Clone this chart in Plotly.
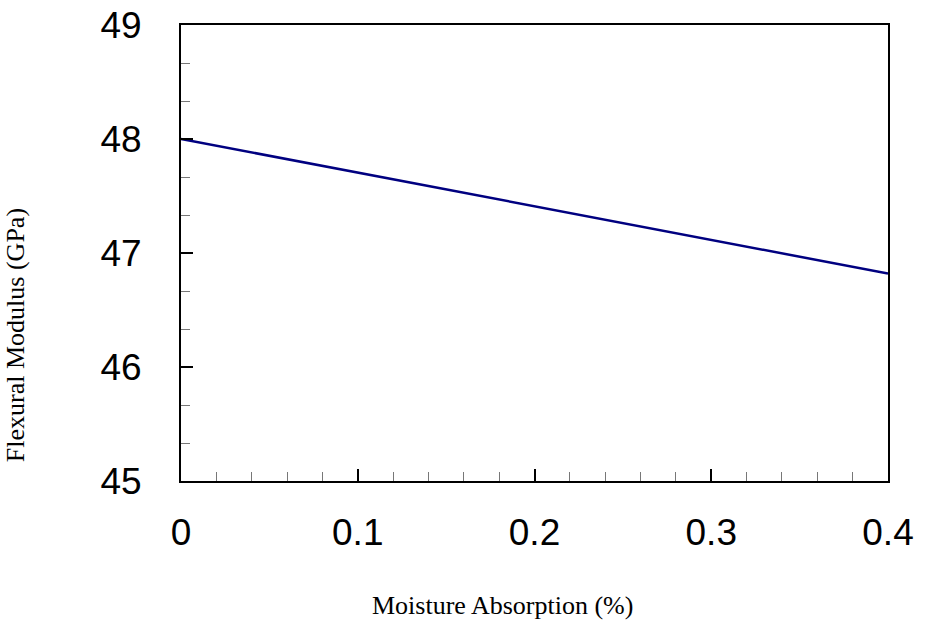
import plotly.graph_objects as go

moisture = [0.0, 0.4]
modulus = [48.0, 46.82]

x_ticks = [0, 0.1, 0.2, 0.3, 0.4]
x_ticklabels = ["0", "0.1", "0.2", "0.3", "0.4"]
y_ticks = [45, 46, 47, 48, 49]
y_ticklabels = ["45", "46", "47", "48", "49"]

W, H = 934, 623
PL, PR, PT, PB = 181, 888, 24.5, 481
PW, PH = PR - PL, PB - PT

fig = go.Figure()
fig.add_trace(go.Scatter(x=moisture, y=modulus, mode="lines",
                         line=dict(color="#000080", width=2.5),
                         showlegend=False))

tickfont = dict(family="Liberation Sans, Arial", size=37, color="black")
fig.update_xaxes(range=[0, 0.4], tickvals=x_ticks, ticktext=x_ticklabels,
                 ticks="inside", ticklen=12, tickwidth=1.5, tickcolor="black",
                 showline=True, linecolor="black", linewidth=2, mirror=True,
                 showgrid=False, zeroline=False, tickfont=tickfont,
                 ticklabelstandoff=18, automargin=False,
                 minor=dict(dtick=0.02, ticks="inside", ticklen=9, tickwidth=1,
                            tickcolor="#777777", showgrid=False))
fig.update_yaxes(range=[45, 49], tickvals=y_ticks, ticktext=y_ticklabels,
                 ticks="inside", ticklen=12, tickwidth=1.5, tickcolor="black",
                 showline=True, linecolor="black", linewidth=2, mirror=True,
                 showgrid=False, zeroline=False, tickfont=tickfont,
                 ticklabelstandoff=30, automargin=False,
                 minor=dict(tick0=45, dtick=1/3, ticks="inside", ticklen=9, tickwidth=1,
                            tickcolor="#777777", showgrid=False))

titlefont = dict(family="Liberation Serif, Times New Roman", size=26, color="black")
fig.add_annotation(text="Moisture Absorption (%)", xref="paper", yref="paper",
                   x=(502 - PL) / PW, y=-(606 - PB) / PH, showarrow=False,
                   xanchor="center", yanchor="middle", font=titlefont)
fig.add_annotation(text="Flexural Modulus (GPa)", xref="paper", yref="paper",
                   x=-(PL - 15) / PW, y=(PB - 335) / PH, showarrow=False,
                   xanchor="center", yanchor="middle", textangle=-90, font=titlefont)

fig.update_layout(width=W, height=H,
                  margin=dict(l=PL, r=W - PR, t=PT, b=H - PB, pad=0),
                  plot_bgcolor="white", paper_bgcolor="white")
fig.write_html("out.html", config={"displayModeBar": False},
               post_script="document.body.style.margin='0';document.body.style.overflow='hidden';")
